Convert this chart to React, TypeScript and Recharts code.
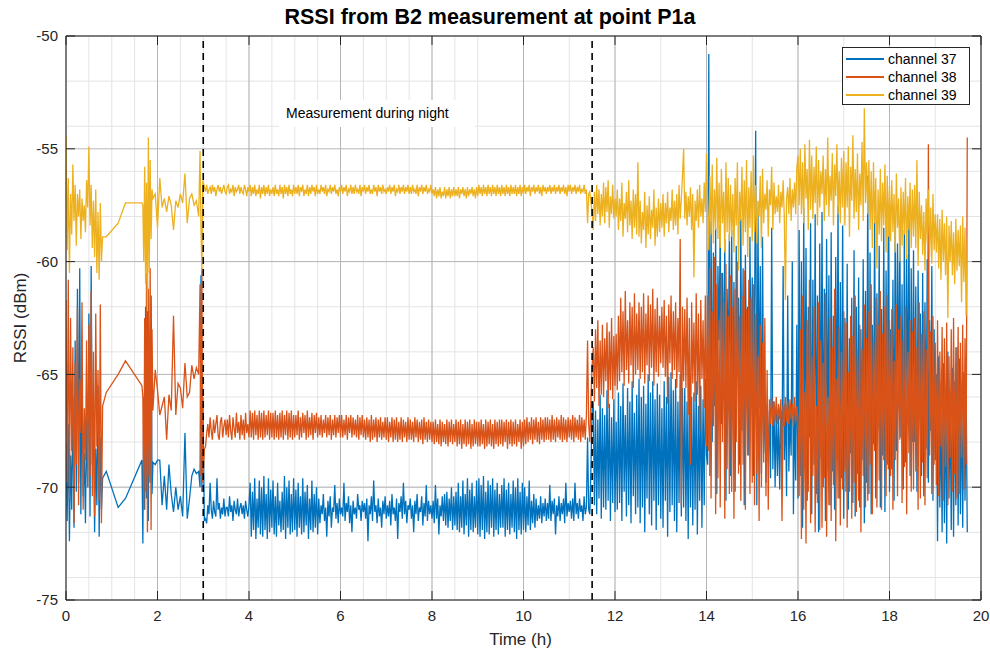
import React from 'react';
import { LineChart, Line, XAxis, YAxis, CartesianGrid, ReferenceLine, Legend } from 'recharts';

// time (h)
const hours = [
  // dense start
  0, 0.025, 0.05, 0.075, 0.1, 0.125, 0.15, 0.175, 0.2, 0.225,
  0.25, 0.275, 0.3, 0.325, 0.35, 0.375, 0.4, 0.425, 0.45, 0.475,
  0.5, 0.525, 0.55, 0.575, 0.6, 0.625, 0.65, 0.675, 0.7, 0.725,
  0.75, 0.775, 0.8,
  // sparse gap
  0.88, 1.14, 1.3, 1.66,
  // burst
  1.68, 1.7, 1.72, 1.74, 1.76, 1.78, 1.8, 1.82, 1.84, 1.86, 1.88, 1.9,
  // sparse before night
  1.95, 2, 2.05, 2.1, 2.15, 2.2, 2.25, 2.3, 2.35, 2.4,
  2.45, 2.5, 2.55, 2.6, 2.65, 2.7, 2.75, 2.8, 2.85, 2.9,
  2.93, 2.95, 2.97, 2.99,
  // night
  3.025, 3.05, 3.075, 3.1, 3.125, 3.15, 3.175, 3.2, 3.225, 3.25, 3.275, 3.3, 3.325, 3.35, 3.375, 3.4, 3.425, 3.45, 3.475, 3.5,
  3.525, 3.55, 3.575, 3.6, 3.625, 3.65, 3.675, 3.7, 3.725, 3.75, 3.775, 3.8, 3.825, 3.85, 3.875, 3.9, 3.925, 3.95, 3.975, 4,
  4.025, 4.05, 4.075, 4.1, 4.125, 4.15, 4.175, 4.2, 4.225, 4.25, 4.275, 4.3, 4.325, 4.35, 4.375, 4.4, 4.425, 4.45, 4.475, 4.5,
  4.525, 4.55, 4.575, 4.6, 4.625, 4.65, 4.675, 4.7, 4.725, 4.75, 4.775, 4.8, 4.825, 4.85, 4.875, 4.9, 4.925, 4.95, 4.975, 5,
  5.025, 5.05, 5.075, 5.1, 5.125, 5.15, 5.175, 5.2, 5.225, 5.25, 5.275, 5.3, 5.325, 5.35, 5.375, 5.4, 5.425, 5.45, 5.475, 5.5,
  5.525, 5.55, 5.575, 5.6, 5.625, 5.65, 5.675, 5.7, 5.725, 5.75, 5.775, 5.8, 5.825, 5.85, 5.875, 5.9, 5.925, 5.95, 5.975, 6,
  6.025, 6.05, 6.075, 6.1, 6.125, 6.15, 6.175, 6.2, 6.225, 6.25, 6.275, 6.3, 6.325, 6.35, 6.375, 6.4, 6.425, 6.45, 6.475, 6.5,
  6.525, 6.55, 6.575, 6.6, 6.625, 6.65, 6.675, 6.7, 6.725, 6.75, 6.775, 6.8, 6.825, 6.85, 6.875, 6.9, 6.925, 6.95, 6.975, 7,
  7.025, 7.05, 7.075, 7.1, 7.125, 7.15, 7.175, 7.2, 7.225, 7.25, 7.275, 7.3, 7.325, 7.35, 7.375, 7.4, 7.425, 7.45, 7.475, 7.5,
  7.525, 7.55, 7.575, 7.6, 7.625, 7.65, 7.675, 7.7, 7.725, 7.75, 7.775, 7.8, 7.825, 7.85, 7.875, 7.9, 7.925, 7.95, 7.975, 8,
  8.025, 8.05, 8.075, 8.1, 8.125, 8.15, 8.175, 8.2, 8.225, 8.25, 8.275, 8.3, 8.325, 8.35, 8.375, 8.4, 8.425, 8.45, 8.475, 8.5,
  8.525, 8.55, 8.575, 8.6, 8.625, 8.65, 8.675, 8.7, 8.725, 8.75, 8.775, 8.8, 8.825, 8.85, 8.875, 8.9, 8.925, 8.95, 8.975, 9,
  9.025, 9.05, 9.075, 9.1, 9.125, 9.15, 9.175, 9.2, 9.225, 9.25, 9.275, 9.3, 9.325, 9.35, 9.375, 9.4, 9.425, 9.45, 9.475, 9.5,
  9.525, 9.55, 9.575, 9.6, 9.625, 9.65, 9.675, 9.7, 9.725, 9.75, 9.775, 9.8, 9.825, 9.85, 9.875, 9.9, 9.925, 9.95, 9.975, 10,
  10.025, 10.05, 10.075, 10.1, 10.125, 10.15, 10.175, 10.2, 10.225, 10.25, 10.275, 10.3, 10.325, 10.35, 10.375, 10.4, 10.425, 10.45, 10.475, 10.5,
  10.525, 10.55, 10.575, 10.6, 10.625, 10.65, 10.675, 10.7, 10.725, 10.75, 10.775, 10.8, 10.825, 10.85, 10.875, 10.9, 10.925, 10.95, 10.975, 11,
  11.025, 11.05, 11.075, 11.1, 11.125, 11.15, 11.175, 11.2, 11.225, 11.25, 11.275, 11.3, 11.325, 11.35, 11.375, 11.4, 11.425, 11.45, 11.475, 11.5,
  // day
  11.525, 11.55, 11.575, 11.6, 11.625, 11.65, 11.675, 11.7, 11.725, 11.75,
  11.775, 11.8, 11.825, 11.85, 11.875, 11.9, 11.925, 11.95, 11.975, 12,
  12.025, 12.05, 12.075, 12.1, 12.125, 12.15, 12.175, 12.2, 12.225, 12.25,
  12.275, 12.3, 12.325, 12.35, 12.375, 12.4, 12.425, 12.45, 12.475, 12.5,
  12.525, 12.55, 12.575, 12.6, 12.625, 12.65, 12.675, 12.7, 12.725, 12.75,
  12.775, 12.8, 12.825, 12.85, 12.875, 12.9, 12.925, 12.95, 12.975, 13,
  13.025, 13.05, 13.075, 13.1, 13.125, 13.15, 13.175, 13.2, 13.225, 13.25,
  13.275, 13.3, 13.325, 13.35, 13.375, 13.4, 13.425, 13.45, 13.475, 13.5,
  13.525, 13.55, 13.575, 13.6, 13.625, 13.65, 13.675, 13.7, 13.725, 13.75,
  13.775, 13.8, 13.825, 13.85, 13.875, 13.9, 13.925, 13.95, 13.975, 14,
  14.025, 14.05, 14.075, 14.1, 14.125, 14.15, 14.175, 14.2, 14.225, 14.25,
  14.275, 14.3, 14.325, 14.35, 14.375, 14.4, 14.425, 14.45, 14.475, 14.5,
  14.525, 14.55, 14.575, 14.6, 14.625, 14.65, 14.675, 14.7, 14.725, 14.75,
  14.775, 14.8, 14.825, 14.85, 14.875, 14.9, 14.925, 14.95, 14.975, 15,
  15.025, 15.05, 15.075, 15.1, 15.125, 15.15, 15.175, 15.2, 15.225, 15.25,
  15.275, 15.3, 15.325, 15.35, 15.375, 15.4, 15.425, 15.45, 15.475, 15.5,
  15.525, 15.55, 15.575, 15.6, 15.625, 15.65, 15.675, 15.7, 15.725, 15.75,
  15.775, 15.8, 15.825, 15.85, 15.875, 15.9, 15.925, 15.95, 15.975, 16,
  16.025, 16.05, 16.075, 16.1, 16.125, 16.15, 16.175, 16.2, 16.225, 16.25,
  16.275, 16.3, 16.325, 16.35, 16.375, 16.4, 16.425, 16.45, 16.475, 16.5,
  16.525, 16.55, 16.575, 16.6, 16.625, 16.65, 16.675, 16.7, 16.725, 16.75,
  16.775, 16.8, 16.825, 16.85, 16.875, 16.9, 16.925, 16.95, 16.975, 17,
  17.025, 17.05, 17.075, 17.1, 17.125, 17.15, 17.175, 17.2, 17.225, 17.25,
  17.275, 17.3, 17.325, 17.35, 17.375, 17.4, 17.425, 17.45, 17.475, 17.5,
  17.525, 17.55, 17.575, 17.6, 17.625, 17.65, 17.675, 17.7, 17.725, 17.75,
  17.775, 17.8, 17.825, 17.85, 17.875, 17.9, 17.925, 17.95, 17.975, 18,
  18.025, 18.05, 18.075, 18.1, 18.125, 18.15, 18.175, 18.2, 18.225, 18.25,
  18.275, 18.3, 18.325, 18.35, 18.375, 18.4, 18.425, 18.45, 18.475, 18.5,
  18.525, 18.55, 18.575, 18.6, 18.625, 18.65, 18.675, 18.7, 18.725, 18.75,
  18.775, 18.8, 18.825, 18.85, 18.875, 18.9, 18.925, 18.95, 18.975, 19,
  19.025, 19.05, 19.075, 19.1, 19.125, 19.15, 19.175, 19.2, 19.225, 19.25,
  19.275, 19.3, 19.325, 19.35, 19.375, 19.4, 19.425, 19.45, 19.475, 19.5,
  19.525, 19.55, 19.575, 19.6, 19.625, 19.65, 19.675, 19.7,
];

// channel 37 RSSI (dBm)
const ch37 = [
  -68.0, -71.5, -67.2, -72.4, -68.6, -71.0, -66.0, -71.8, -63.5, -70.2,
  -61.2, -69.8, -60.3, -71.2, -64.6, -70.4, -68.5, -71.6, -67.0, -70.0,
  -62.3, -71.3, -60.2, -69.0, -66.8, -72.0, -68.3, -70.8, -65.5, -72.2,
  -67.8, -71.0, -69.6,
  -69.3, -70.9, -70.5, -68.8,
  -72.5, -66.0, -71.0, -62.0, -70.5, -60.8, -71.5, -64.0, -69.8, -61.5, -70.3, -68.9,
  -69.0, -68.8, -68.8, -70.8, -69.5, -71.0, -69.0, -70.3, -71.1, -70.0,
  -71.0, -70.4, -71.3, -67.6, -71.4, -70.5, -69.5, -69.2, -69.4, -69.3,
  -70.0, -60.6, -70.2, -66.0,
  // night
  -71.5, -71.4, -71.6, -70.8, -71.2, -69.8, -71.0, -71.4, -70.6, -71.1, -71.3, -69.6, -71.0, -70.7, -71.4, -70.9, -71.2, -70.5, -71.3, -70.9,
  -70.9, -71.3, -70.4, -71.1, -70.8, -71.5, -70.6, -71.0, -71.2, -70.5, -71.3, -70.9, -70.7, -71.2, -70.8, -71.4, -70.6, -71.0, -71.3, -70.8,
  -69.8, -72.2, -70.2, -71.9, -69.6, -72.3, -70.5, -71.8, -69.7, -72.1, -70.0, -72.2, -69.5, -71.9, -70.3, -72.3, -69.6, -72.0, -70.1, -71.8,
  -69.7, -72.1, -70.4, -72.2, -69.8, -71.7, -70.6, -72.0, -70.2, -71.9, -69.5, -72.3, -70.0, -71.8, -69.7, -72.1, -70.3, -72.0, -69.6, -71.9,
  -70.1, -72.2, -69.8, -71.8, -70.4, -72.1, -69.6, -72.0, -70.2, -71.7, -69.9, -72.3, -70.5, -71.9, -69.7, -72.0, -70.3, -71.8, -70.0, -72.1,
  -70.5, -71.6, -70.8, -71.2, -70.3, -71.5, -70.9, -72.2, -70.6, -71.3, -70.4, -71.8, -70.9, -71.1, -69.9, -71.4, -70.7, -71.6, -70.5, -71.2,
  -70.9, -71.3, -69.8, -71.5, -70.7, -71.1, -70.4, -71.6, -70.8, -72.0, -70.6, -71.2, -70.9, -71.4, -70.3, -71.0, -70.8, -71.5, -70.6, -71.1,
  -70.7, -71.4, -70.5, -72.4, -70.8, -71.2, -70.4, -71.5, -69.7, -71.1, -70.8, -71.6, -70.5, -71.3, -70.9, -71.8, -70.6, -71.2, -70.4, -71.4,
  -70.8, -71.3, -70.6, -71.7, -70.3, -71.2, -70.9, -71.5, -70.5, -72.3, -70.7, -71.1, -70.4, -71.4, -69.8, -71.2, -70.6, -71.6, -70.8, -71.0,
  -70.5, -71.4, -70.8, -72.0, -70.6, -71.2, -70.3, -71.5, -70.9, -71.1, -70.4, -71.7, -70.7, -71.3, -69.9, -71.5, -70.6, -71.2, -70.8, -71.4,
  -70.6, -71.6, -69.9, -71.4, -70.5, -72.1, -70.8, -71.3, -70.4, -71.5, -70.3, -71.7, -70.2, -71.8, -70.5, -71.5, -70.0, -71.9, -70.4, -71.7,
  -70.2, -71.9, -69.8, -72.0, -70.4, -71.8, -69.7, -72.1, -70.3, -71.7, -69.6, -72.2, -70.1, -71.9, -69.8, -72.0, -70.4, -71.8, -69.7, -72.1,
  -69.6, -72.2, -69.9, -71.9, -69.5, -72.3, -70.2, -72.0, -69.7, -72.1, -69.9, -71.8, -69.6, -72.2, -70.1, -71.9, -69.8, -72.1, -70.3, -71.8,
  -69.9, -71.8, -69.6, -72.2, -70.1, -71.9, -69.8, -72.1, -70.3, -71.8, -69.7, -72.0, -70.0, -72.3, -69.6, -71.9, -70.2, -72.1, -69.8, -71.9,
  -70.0, -72.0, -70.4, -71.7, -69.7, -71.9, -70.6, -71.6, -70.3, -71.8, -70.5, -71.5, -70.8, -71.4, -70.4, -71.6, -70.7, -71.3, -70.5, -71.5,
  -70.7, -71.4, -69.9, -71.5, -70.6, -71.2, -70.5, -72.1, -70.8, -71.3, -70.4, -71.5, -70.7, -71.2, -70.5, -71.6, -69.8, -71.3, -70.7, -71.1,
  -70.6, -71.4, -70.5, -71.5, -69.8, -71.2, -70.7, -71.4, -70.5, -71.1, -70.8, -71.5, -70.4, -71.2, -70.9, -67.8, -71.0, -71.2, -69.0, -66.5,
  // day
  -66.2, -70.8, -66.6, -71.2, -67.0, -70.5, -65.9, -71.4, -66.5, -70.9,
  -66.8, -71.0, -65.7, -70.6, -66.3, -71.5, -66.9, -70.7, -66.1, -71.1,
  -67.1, -71.0, -65.8, -70.7, -66.4, -71.5, -65.4, -70.2, -66.8, -71.3,
  -65.6, -70.8, -66.2, -71.6, -65.3, -70.4, -66.7, -71.2, -65.9, -70.9,
  -65.2, -71.6, -66.0, -70.9, -65.5, -72.0, -66.3, -70.5, -65.0, -71.2,
  -65.8, -71.7, -65.3, -70.6, -66.1, -71.9, -65.4, -70.8, -65.9, -71.4,
  -66.5, -71.8, -65.3, -70.6, -66.0, -72.2, -65.1, -71.1, -64.9, -70.8,
  -65.7, -71.5, -65.2, -72.0, -66.2, -70.7, -65.0, -71.3, -65.6, -70.9,
  -65.6, -71.5, -66.2, -72.3, -65.4, -70.9, -66.0, -71.7, -65.8, -71.0,
  -65.3, -72.1, -66.4, -70.6, -65.5, -71.8, -66.1, -70.8, -65.2, -68.6,
  -69.0, -50.8, -69.5, -58.2, -68.0, -59.6, -66.4, -58.5, -70.3, -60.2,
  -63.5, -58.4, -67.2, -60.5, -65.0, -59.0, -70.6, -61.2, -64.8, -58.8,
  -69.5, -58.6, -66.8, -60.9, -70.2, -59.3, -64.5, -61.6, -69.0, -58.1,
  -67.5, -60.3, -70.8, -59.7, -65.2, -62.0, -68.6, -58.9, -66.0, -60.7,
  -69.5, -62.4, -54.2, -70.8, -57.8, -66.5, -60.2, -69.4, -58.9, -68.5,
  -66.0, -69.8, -66.3, -68.9, -66.6, -69.6, -58.5, -69.2, -66.2, -70.0,
  -66.4, -69.5, -66.8, -70.1, -66.6, -69.0, -60.2, -68.8, -66.3, -70.4,
  -61.5, -69.3, -66.7, -68.6, -60.0, -71.2, -66.5, -69.7, -62.8, -70.5,
  -58.6, -69.5, -60.0, -71.8, -57.6, -68.4, -59.4, -70.6, -62.0, -67.8,
  -58.3, -71.2, -60.8, -69.0, -57.9, -70.3, -61.5, -72.0, -59.2, -68.7,
  -57.8, -70.0, -61.2, -71.5, -59.0, -68.9, -60.6, -70.8, -58.7, -69.3,
  -62.4, -71.0, -59.8, -68.2, -57.5, -70.5, -60.9, -69.6, -58.4, -71.4,
  -62.5, -70.2, -60.1, -71.0, -63.4, -68.5, -61.6, -70.7, -59.5, -71.3,
  -62.0, -69.4, -60.7, -70.9, -63.0, -68.8, -59.9, -71.6, -61.3, -69.8,
  -56.2, -70.3, -59.6, -71.2, -62.8, -68.1, -58.0, -70.5, -61.4, -67.4,
  -59.3, -70.9, -62.1, -68.6, -58.5, -71.1, -60.4, -69.0, -57.9, -70.2,
  -63.0, -69.2, -60.8, -70.6, -58.0, -68.4, -59.2, -66.5, -58.3, -67.8,
  -61.0, -70.1, -58.6, -68.9, -59.7, -67.2, -58.1, -69.5, -60.3, -68.0,
  -59.5, -68.0, -61.1, -70.2, -60.4, -67.0, -62.3, -69.5, -60.5, -70.4,
  -61.8, -68.3, -59.9, -69.8, -62.6, -67.5, -60.2, -70.6, -63.0, -68.8,
  -65.0, -72.4, -64.2, -70.9, -66.8, -72.0, -64.5, -71.6, -65.6, -72.5,
  -64.0, -70.5, -66.2, -71.9, -64.7, -72.2, -65.3, -70.8, -63.8, -71.7,
  -64.3, -71.2, -66.0, -71.8, -64.9, -70.6, -65.7, -72.0,
];

// channel 38 RSSI (dBm)
const ch38 = [
  -61.7, -69.8, -60.8, -70.5, -62.5, -68.4, -63.8, -71.6, -64.5, -69.0,
  -62.0, -70.8, -65.2, -67.6, -61.8, -71.0, -66.5, -68.8, -63.5, -70.0,
  -62.8, -69.5, -61.3, -70.4, -64.0, -71.3, -62.3, -68.2, -64.8, -70.6,
  -61.9, -71.6, -66.4,
  -65.8, -65.0, -64.4, -65.5,
  -66.0, -71.0, -62.5, -70.2, -60.5, -72.0, -61.2, -69.5, -60.3, -71.9, -63.0, -66.6,
  -64.8, -65.7, -66.8, -66.4, -66.0, -67.9, -65.9, -66.6, -62.4, -66.8,
  -65.4, -65.6, -66.5, -64.5, -66.0, -65.8, -64.6, -65.2, -64.7, -65.0,
  -61.0, -69.5, -60.3, -69.8,
  // night
  -68.3, -68.2, -67.6, -67.2, -67.8, -66.9, -67.5, -67.9, -67.0, -67.6, -67.2, -66.8, -67.7, -67.9, -67.1, -66.9, -67.8, -67.3, -67.0, -67.7,
  -67.0, -67.8, -66.8, -67.5, -67.9, -66.9, -67.4, -67.8, -66.7, -67.6, -67.1, -67.9, -66.8, -67.7, -67.0, -67.9, -66.7, -67.6, -67.2, -67.8,
  -66.6, -67.8, -66.7, -67.9, -66.6, -67.7, -66.8, -67.9, -66.6, -67.8, -66.7, -67.9, -66.6, -67.8, -66.8, -67.7, -66.6, -67.9, -66.7, -67.8,
  -66.7, -67.9, -66.6, -67.8, -66.8, -67.9, -66.7, -67.8, -66.6, -67.9, -66.8, -67.7, -66.6, -67.9, -66.7, -67.8, -66.6, -67.9, -66.8, -67.8,
  -66.8, -67.7, -66.6, -67.9, -66.9, -67.8, -66.7, -67.6, -66.8, -67.9, -66.6, -67.8, -66.9, -67.7, -66.7, -67.9, -66.8, -67.6, -66.7, -67.8,
  -66.9, -67.7, -66.8, -67.8, -67.0, -67.6, -66.8, -67.8, -66.9, -67.7, -66.8, -67.9, -67.0, -67.7, -66.8, -67.8, -66.9, -67.6, -66.8, -67.8,
  -66.8, -67.8, -67.0, -67.7, -66.8, -67.9, -66.9, -67.6, -66.8, -67.8, -66.9, -67.7, -67.0, -67.8, -66.8, -67.9, -66.9, -67.7, -66.8, -67.8,
  -67.0, -67.9, -66.9, -67.8, -67.0, -68.0, -66.8, -67.9, -67.0, -67.8, -66.9, -68.0, -67.0, -67.8, -66.9, -67.9, -67.1, -67.8, -66.9, -67.9,
  -66.9, -68.0, -67.1, -67.8, -66.9, -68.0, -67.0, -67.9, -66.9, -68.0, -67.1, -67.9, -66.9, -68.0, -67.0, -67.8, -67.1, -68.0, -66.9, -67.9,
  -67.0, -67.9, -67.1, -68.0, -66.9, -67.8, -67.0, -68.0, -67.1, -67.9, -67.0, -68.1, -66.9, -67.9, -67.1, -68.0, -67.0, -67.9, -67.1, -68.0,
  -67.1, -68.1, -67.0, -68.0, -67.2, -68.1, -67.0, -68.2, -67.1, -68.0, -67.2, -68.1, -67.0, -68.2, -67.1, -68.0, -67.0, -68.1, -67.2, -68.0,
  -67.0, -68.2, -67.1, -68.1, -67.0, -68.3, -67.2, -68.1, -67.0, -68.2, -67.1, -68.1, -67.0, -68.3, -67.2, -68.2, -67.0, -68.1, -67.1, -68.2,
  -67.1, -68.2, -67.0, -68.1, -67.2, -68.3, -67.0, -68.2, -67.1, -68.1, -67.0, -68.2, -67.2, -68.3, -67.0, -68.1, -67.1, -68.2, -67.0, -68.1,
  -67.0, -68.2, -67.1, -68.0, -67.0, -68.3, -67.1, -68.1, -67.0, -68.2, -67.1, -68.1, -67.0, -68.2, -67.2, -68.0, -67.0, -68.3, -67.1, -68.2,
  -67.0, -68.1, -66.9, -68.0, -67.1, -67.9, -66.9, -68.1, -67.0, -67.9, -66.9, -68.0, -67.1, -68.1, -66.9, -67.9, -67.0, -68.0, -66.9, -67.9,
  -66.9, -67.9, -67.0, -68.0, -66.8, -67.9, -67.0, -68.0, -66.9, -67.8, -67.0, -67.9, -66.8, -68.0, -66.9, -67.9, -67.0, -68.0, -66.9, -67.8,
  -67.0, -67.9, -66.8, -68.0, -66.9, -67.8, -67.0, -67.9, -66.8, -68.0, -66.9, -67.8, -67.0, -67.9, -66.8, -63.5, -67.2, -68.0, -66.0, -64.6,
  // day
  -63.8, -66.2, -63.0, -65.6, -62.6, -66.4, -63.5, -65.9, -62.8, -66.0,
  -63.4, -65.3, -62.7, -66.5, -63.1, -65.7, -62.5, -66.1, -63.3, -65.5,
  -63.2, -65.7, -62.4, -65.3, -61.6, -64.9, -62.2, -65.5, -61.3, -64.8,
  -62.6, -65.4, -61.8, -64.6, -62.0, -65.6, -61.4, -65.0, -62.3, -64.8,
  -61.8, -65.2, -62.0, -64.9, -61.4, -65.4, -62.3, -64.6, -61.5, -65.3,
  -61.9, -64.7, -61.2, -65.5, -62.1, -64.9, -61.6, -65.1, -62.4, -64.5,
  -62.0, -64.7, -61.7, -65.1, -62.4, -66.3, -61.9, -64.5, -61.5, -65.2,
  -62.2, -64.8, -61.8, -65.6, -62.5, -64.9, -59.0, -70.8, -62.0, -65.3,
  -62.1, -65.6, -61.6, -66.8, -62.5, -69.0, -61.8, -65.4, -62.7, -66.2,
  -61.4, -65.9, -62.3, -67.5, -61.7, -65.2, -62.6, -66.5, -61.5, -68.2,
  -61.5, -68.4, -60.3, -70.5, -62.2, -67.3, -59.8, -71.2, -61.0, -69.6,
  -62.6, -70.9, -60.5, -68.0, -61.8, -71.4, -60.1, -69.2, -62.4, -70.3,
  -60.6, -70.2, -62.0, -71.4, -61.2, -68.0, -60.0, -69.4, -62.4, -70.6,
  -61.5, -69.0, -60.4, -71.0, -62.1, -68.6, -60.8, -70.3, -61.6, -69.8,
  -61.0, -70.8, -62.3, -69.4, -64.2, -71.5, -62.8, -70.0, -63.6, -68.9,
  -62.5, -70.4, -64.8, -71.0, -66.1, -67.2, -66.0, -67.3, -66.2, -67.1,
  -66.0, -67.2, -66.3, -67.0, -66.1, -71.5, -66.4, -67.3, -66.0, -67.1,
  -66.2, -67.2, -66.1, -67.0, -66.3, -67.3, -66.0, -67.1, -66.4, -67.0,
  -70.4, -63.0, -72.3, -61.5, -71.0, -65.8, -72.5, -62.6, -70.2, -60.8,
  -71.6, -64.2, -69.5, -62.0, -72.0, -66.4, -70.7, -61.8, -71.9, -63.5,
  -71.8, -64.5, -69.6, -61.4, -72.2, -66.0, -70.8, -62.5, -71.5, -63.8,
  -69.9, -61.2, -72.4, -65.2, -70.5, -62.9, -71.7, -64.0, -70.1, -62.2,
  -69.3, -62.7, -71.8, -64.9, -70.2, -62.4, -71.4, -63.3, -69.8, -61.5,
  -71.1, -64.2, -70.6, -62.8, -72.0, -63.9, -69.5, -61.9, -70.9, -63.4,
  -70.6, -62.2, -69.0, -61.0, -71.2, -63.6, -68.4, -61.6, -70.9, -62.8,
  -69.7, -61.3, -71.0, -63.2, -68.8, -62.0, -70.4, -61.5, -69.2, -62.6,
  -69.5, -62.1, -71.0, -64.4, -68.8, -61.9, -70.4, -63.0, -67.9, -62.4,
  -70.7, -63.5, -69.1, -62.0, -71.2, -64.0, -68.5, -62.6, -70.2, -63.1,
  -70.1, -62.5, -69.3, -63.8, -71.0, -61.8, -70.5, -63.2, -68.9, -62.2,
  -70.8, -63.9, -69.6, -54.8, -68.6, -63.1, -70.3, -62.4, -69.0, -63.6,
  -69.9, -62.6, -70.4, -64.0, -68.2, -62.9, -70.6, -63.4, -69.1, -62.7,
  -70.8, -64.2, -68.7, -63.0, -70.2, -62.5, -69.4, -63.8, -70.5, -62.9,
  -70.3, -63.6, -68.7, -62.8, -70.1, -63.4, -69.0, -54.5,
];

// channel 39 RSSI (dBm)
const ch39 = [
  -54.4, -59.5, -56.3, -60.5, -57.0, -58.8, -55.7, -58.2, -56.6, -59.3,
  -57.0, -58.0, -56.8, -59.0, -57.2, -58.2, -57.5, -58.7, -56.4, -57.6,
  -54.9, -58.4, -56.6, -59.4, -57.3, -59.8, -56.8, -60.5, -57.8, -60.8,
  -57.4, -60.0, -58.9,
  -58.9, -58.3, -57.4, -57.4,
  -57.5, -60.0, -55.8, -61.0, -56.5, -62.2, -54.5, -60.5, -55.5, -59.0, -56.8, -57.2,
  -57.0, -58.5, -56.3, -57.6, -57.2, -57.8, -57.1, -57.5, -58.6, -57.3,
  -57.6, -57.0, -57.4, -56.1, -58.3, -57.2, -57.0, -57.5, -57.3, -58.0,
  -55.1, -58.5, -60.4, -56.4,
  // night
  -56.7, -56.9, -56.6, -57.0, -56.8, -56.7, -57.0, -56.6, -56.9, -56.7, -57.1, -56.8, -56.6, -56.9, -56.7, -57.0, -56.8, -56.6, -56.9, -57.0,
  -56.7, -56.6, -57.0, -56.8, -56.9, -56.6, -57.1, -56.7, -56.9, -56.8, -56.6, -57.0, -56.7, -56.9, -57.0, -56.6, -56.8, -57.1, -56.7, -56.9,
  -56.6, -57.1, -56.7, -57.0, -56.6, -57.1, -56.8, -57.0, -56.6, -57.2, -56.7, -57.0, -56.6, -57.1, -56.7, -57.0, -56.6, -57.1, -56.8, -57.0,
  -56.7, -57.1, -56.6, -57.0, -56.8, -57.1, -56.6, -57.0, -56.7, -57.2, -56.6, -57.0, -56.7, -57.1, -56.6, -57.0, -56.8, -57.1, -56.6, -57.0,
  -56.7, -57.0, -56.6, -57.1, -56.7, -56.9, -56.6, -57.1, -56.8, -57.0, -56.6, -57.1, -56.7, -57.0, -56.6, -56.9, -56.7, -57.1, -56.6, -57.0,
  -56.8, -57.0, -56.6, -56.9, -56.7, -57.0, -56.6, -57.1, -56.8, -56.9, -56.6, -57.0, -56.7, -56.9, -56.6, -57.0, -56.8, -57.1, -56.7, -56.9,
  -56.6, -57.0, -56.7, -56.9, -56.6, -57.1, -56.8, -56.9, -56.6, -57.0, -56.7, -57.0, -56.6, -56.9, -56.8, -57.0, -56.6, -57.1, -56.7, -56.9,
  -56.6, -57.0, -56.7, -56.9, -56.6, -57.0, -56.8, -57.0, -56.6, -56.9, -56.7, -57.1, -56.6, -56.9, -56.7, -57.0, -56.6, -56.9, -56.8, -57.0,
  -56.7, -56.9, -56.6, -57.0, -56.7, -56.9, -56.6, -57.1, -56.8, -56.9, -56.6, -57.0, -56.7, -56.9, -56.6, -57.0, -56.7, -56.9, -56.6, -57.0,
  -56.7, -57.0, -56.6, -56.9, -56.8, -57.0, -56.6, -57.1, -56.7, -56.9, -56.6, -57.0, -56.7, -56.9, -56.6, -57.0, -56.8, -56.9, -56.6, -57.0,
  -56.8, -57.1, -56.7, -57.2, -56.8, -57.1, -56.7, -57.2, -56.9, -57.1, -56.7, -57.2, -56.8, -57.1, -56.7, -57.2, -56.8, -57.1, -56.7, -57.1,
  -56.8, -57.1, -56.7, -57.2, -56.8, -57.0, -56.7, -57.1, -56.8, -57.2, -56.7, -57.1, -56.8, -57.0, -56.7, -57.1, -56.8, -57.2, -56.7, -57.1,
  -56.6, -57.0, -56.7, -57.1, -56.6, -57.0, -56.7, -57.1, -56.6, -57.0, -56.7, -57.1, -56.6, -57.0, -56.7, -57.1, -56.6, -57.0, -56.7, -57.1,
  -56.6, -57.0, -56.7, -57.1, -56.6, -57.0, -56.7, -57.1, -56.6, -57.0, -56.7, -57.0, -56.6, -57.1, -56.7, -57.0, -56.6, -57.1, -56.7, -57.0,
  -56.6, -57.0, -56.7, -56.9, -56.6, -57.1, -56.7, -56.9, -56.6, -57.0, -56.7, -56.9, -56.6, -57.0, -56.7, -57.1, -56.6, -56.9, -56.7, -57.0,
  -56.7, -56.9, -56.6, -57.0, -56.7, -56.9, -56.6, -57.0, -56.7, -56.9, -56.6, -57.0, -56.7, -56.9, -56.6, -57.0, -56.7, -57.1, -56.6, -56.9,
  -56.6, -57.0, -56.7, -56.9, -56.6, -57.0, -56.7, -56.9, -56.6, -57.0, -56.8, -56.9, -56.6, -57.0, -56.8, -58.3, -57.0, -56.9, -57.4, -57.8,
  // day
  -58.6, -56.9, -58.2, -56.6, -57.9, -56.8, -58.4, -57.0, -58.0, -56.5,
  -58.3, -56.7, -57.8, -56.4, -58.5, -57.1, -57.9, -56.6, -58.1, -57.2,
  -58.0, -56.8, -58.6, -57.2, -58.2, -56.5, -58.9, -57.4, -58.1, -56.9,
  -58.7, -56.4, -58.4, -57.3, -59.0, -56.8, -58.5, -57.0, -58.8, -55.6,
  -58.9, -57.3, -59.2, -57.8, -58.6, -56.9, -59.4, -57.5, -58.8, -57.1,
  -59.0, -57.7, -58.5, -56.8, -59.3, -57.6, -58.9, -57.2, -58.7, -57.4,
  -58.5, -57.0, -58.9, -57.4, -58.3, -56.9, -58.7, -57.6, -58.2, -56.8,
  -58.6, -57.3, -58.4, -57.0, -58.8, -56.6, -58.1, -57.2, -56.2, -55.0,
  -58.1, -56.9, -58.4, -57.1, -58.0, -56.7, -58.6, -57.0, -60.7, -57.3,
  -58.2, -56.8, -58.5, -56.6, -58.0, -57.2, -58.3, -56.5, -57.8, -55.2,
  -57.4, -59.5, -56.2, -58.8, -55.7, -59.2, -56.8, -58.6, -55.4, -59.0,
  -56.5, -59.4, -55.9, -58.3, -56.9, -59.6, -55.6, -58.7, -56.3, -59.1,
  -56.6, -58.9, -57.0, -59.6, -56.3, -58.4, -55.6, -60.4, -56.9, -58.2,
  -55.8, -59.3, -56.4, -58.7, -55.5, -59.8, -56.7, -58.5, -56.0, -59.1,
  -55.3, -58.7, -56.6, -59.2, -57.3, -58.0, -56.2, -59.4, -55.9, -58.3,
  -57.0, -57.7, -56.4, -58.9, -56.8, -57.5, -55.8, -58.6, -56.5, -57.9,
  -57.1, -57.8, -56.6, -58.3, -56.9, -57.6, -56.4, -58.0, -61.7, -57.2,
  -56.7, -57.9, -56.3, -58.2, -56.8, -57.6, -56.5, -57.9, -55.8, -55.3,
  -57.5, -55.0, -57.9, -55.6, -58.3, -54.8, -57.2, -55.9, -58.6, -54.6,
  -57.7, -55.3, -58.1, -55.8, -57.4, -54.9, -58.4, -55.5, -57.6, -56.0,
  -57.0, -55.3, -58.2, -55.9, -57.5, -54.5, -58.0, -56.2, -57.3, -55.2,
  -58.4, -55.7, -57.1, -54.8, -57.9, -56.0, -58.3, -55.4, -57.6, -55.1,
  -58.4, -55.6, -57.6, -54.9, -58.9, -55.8, -57.3, -54.4, -58.1, -55.9,
  -57.8, -55.2, -58.6, -56.1, -57.5, -54.7, -58.2, -53.2, -57.4, -55.6,
  -57.9, -55.5, -58.6, -56.0, -59.4, -55.6, -58.3, -56.3, -60.3, -56.8,
  -58.8, -55.9, -59.1, -56.5, -58.4, -55.7, -59.6, -56.2, -58.9, -56.6,
  -59.1, -56.4, -58.7, -57.0, -59.6, -56.1, -58.5, -57.2, -60.0, -56.7,
  -59.3, -56.9, -58.8, -56.3, -59.9, -57.1, -58.6, -56.5, -59.4, -56.8,
  -58.9, -56.6, -59.4, -55.5, -60.2, -56.9, -59.0, -57.5, -59.7, -57.8,
  -60.4, -57.2, -59.2, -56.8, -59.8, -57.6, -60.1, -57.0, -59.5, -57.9,
  -59.6, -57.9, -60.3, -58.1, -60.8, -57.7, -60.0, -58.3, -60.6, -58.0,
  -62.5, -58.4, -60.0, -58.2, -60.6, -58.7, -61.0, -58.1, -60.4, -58.6,
  -60.2, -58.4, -61.8, -58.0, -60.9, -58.5, -62.4, -58.9,
];

const xTicks = [0, 2, 4, 6, 8, 10, 12, 14, 16, 18, 20];
const yTicks = [-75, -70, -65, -60, -55, -50];
const xMinorTicks = [0, 0.5, 1, 1.5, 2, 2.5, 3, 3.5, 4, 4.5, 5, 5.5, 6, 6.5, 7, 7.5, 8, 8.5, 9, 9.5, 10,
  10.5, 11, 11.5, 12, 12.5, 13, 13.5, 14, 14.5, 15, 15.5, 16, 16.5, 17, 17.5, 18, 18.5, 19, 19.5, 20];
const yMinorTicks = [-75, -74, -73, -72, -71, -70, -69, -68, -67, -66, -65, -64, -63, -62, -61, -60,
  -59, -58, -57, -56, -55, -54, -53, -52, -51, -50];
const nightBounds = [3, 11.5];

const titleText = 'RSSI from B2 measurement at point P1a';
const xLabel = 'Time (h)';
const yLabel = 'RSSI (dBm)';
const noteText = 'Measurement during night';

const series = [
  { key: 'c37', name: 'channel 37', color: '#0072BD' },
  { key: 'c38', name: 'channel 38', color: '#D95319' },
  { key: 'c39', name: 'channel 39', color: '#EDB120' },
];

const data = hours.map((t, i) => ({ t, c37: ch37[i], c38: ch38[i], c39: ch39[i] }));

const FONT = '"Liberation Sans", Arial, Helvetica, sans-serif';
const AX = '#262626';

const LegendBox = () => (
  <div
    style={{
      width: 128,
      height: 58,
      boxSizing: 'border-box',
      border: '1px solid #262626',
      background: '#fff',
      paddingTop: 2,
      fontFamily: FONT,
    }}
  >
    {series.map((s) => (
      <div key={s.key} style={{ display: 'flex', alignItems: 'center', height: 18 }}>
        <div style={{ width: 38, height: 1.5, background: s.color, marginLeft: 3 }} />
        <span style={{ marginLeft: 4, fontSize: 14, color: '#000', lineHeight: '18px' }}>{s.name}</span>
      </div>
    ))}
  </div>
);

export default function App() {
  return (
    <div style={{ position: 'absolute', left: 0, top: 0, width: 990, height: 650, background: '#fff', fontFamily: FONT }}>
      <div
        style={{
          position: 'absolute',
          left: 0,
          top: 5,
          width: 980,
          textAlign: 'center',
          fontSize: 21.5,
          fontWeight: 'bold',
          color: '#000',
          zIndex: 2,
        }}
      >
        {titleText}
      </div>
      <LineChart width={990} height={650} data={data} margin={{ top: 35, right: 8, bottom: 0, left: 0 }}>
        <XAxis xAxisId="minor" type="number" dataKey="t" domain={[0, 20]} ticks={xMinorTicks} hide allowDataOverflow />
        <YAxis yAxisId="minor" type="number" dataKey="c39" domain={[-75, -50]} ticks={yMinorTicks} hide allowDataOverflow />
        <CartesianGrid xAxisId="minor" yAxisId="minor" stroke="#e4e4e4" strokeWidth={1} />
        <CartesianGrid stroke="#b5b5b5" strokeWidth={1} />
        <XAxis
          type="number"
          dataKey="t"
          domain={[0, 20]}
          ticks={xTicks}
          allowDataOverflow
          height={50}
          interval={0}
          tickSize={-9}
          tickMargin={19}
          stroke={AX}
          tick={{ fill: AX, fontSize: 15, fontFamily: FONT }}
          label={{ value: xLabel, position: 'insideBottom', offset: 5, dx: -3, fill: AX, fontSize: 17, fontFamily: FONT }}
        />
        <YAxis
          type="number"
          domain={[-75, -50]}
          ticks={yTicks}
          allowDataOverflow
          width={66}
          interval={0}
          tickSize={-9}
          tickMargin={17}
          stroke={AX}
          tick={{ fill: AX, fontSize: 15, fontFamily: FONT }}
          label={{ value: yLabel, angle: -90, position: 'center', dx: -13, fill: AX, fontSize: 17, fontFamily: FONT }}
        />
        <XAxis
          xAxisId="top"
          orientation="top"
          type="number"
          dataKey="t"
          domain={[0, 20]}
          ticks={xTicks}
          allowDataOverflow
          height={1}
          interval={0}
          tickSize={-9}
          tickFormatter={() => ''}
          stroke={AX}
        />
        <YAxis
          yAxisId="right"
          orientation="right"
          type="number"
          dataKey="c39"
          domain={[-75, -50]}
          ticks={yTicks}
          allowDataOverflow
          width={1}
          interval={0}
          tickSize={-9}
          tickFormatter={() => ''}
          stroke={AX}
        />
        {series.map((s) => (
          <Line
            key={s.key}
            type="linear"
            dataKey={s.key}
            name={s.name}
            stroke={s.color}
            strokeWidth={1.3}
            dot={false}
            activeDot={false}
            isAnimationActive={false}
          />
        ))}
        {nightBounds.map((b) => (
          <ReferenceLine key={b} x={b} stroke="#000" strokeWidth={1.6} strokeDasharray="7 5" />
        ))}
        <Legend
          content={<LegendBox />}
          layout="horizontal"
          verticalAlign="middle"
          align="center"
          wrapperStyle={{ left: 842, top: 47, width: 128, height: 58 }}
        />
      </LineChart>
      <div
        style={{
          position: 'absolute',
          left: 279,
          top: 100,
          width: 196,
          height: 27,
          background: '#fff',
          fontSize: 14,
          lineHeight: '27px',
          color: '#000',
          paddingLeft: 7,
          boxSizing: 'border-box',
        }}
      >
        {noteText}
      </div>
    </div>
  );
}
